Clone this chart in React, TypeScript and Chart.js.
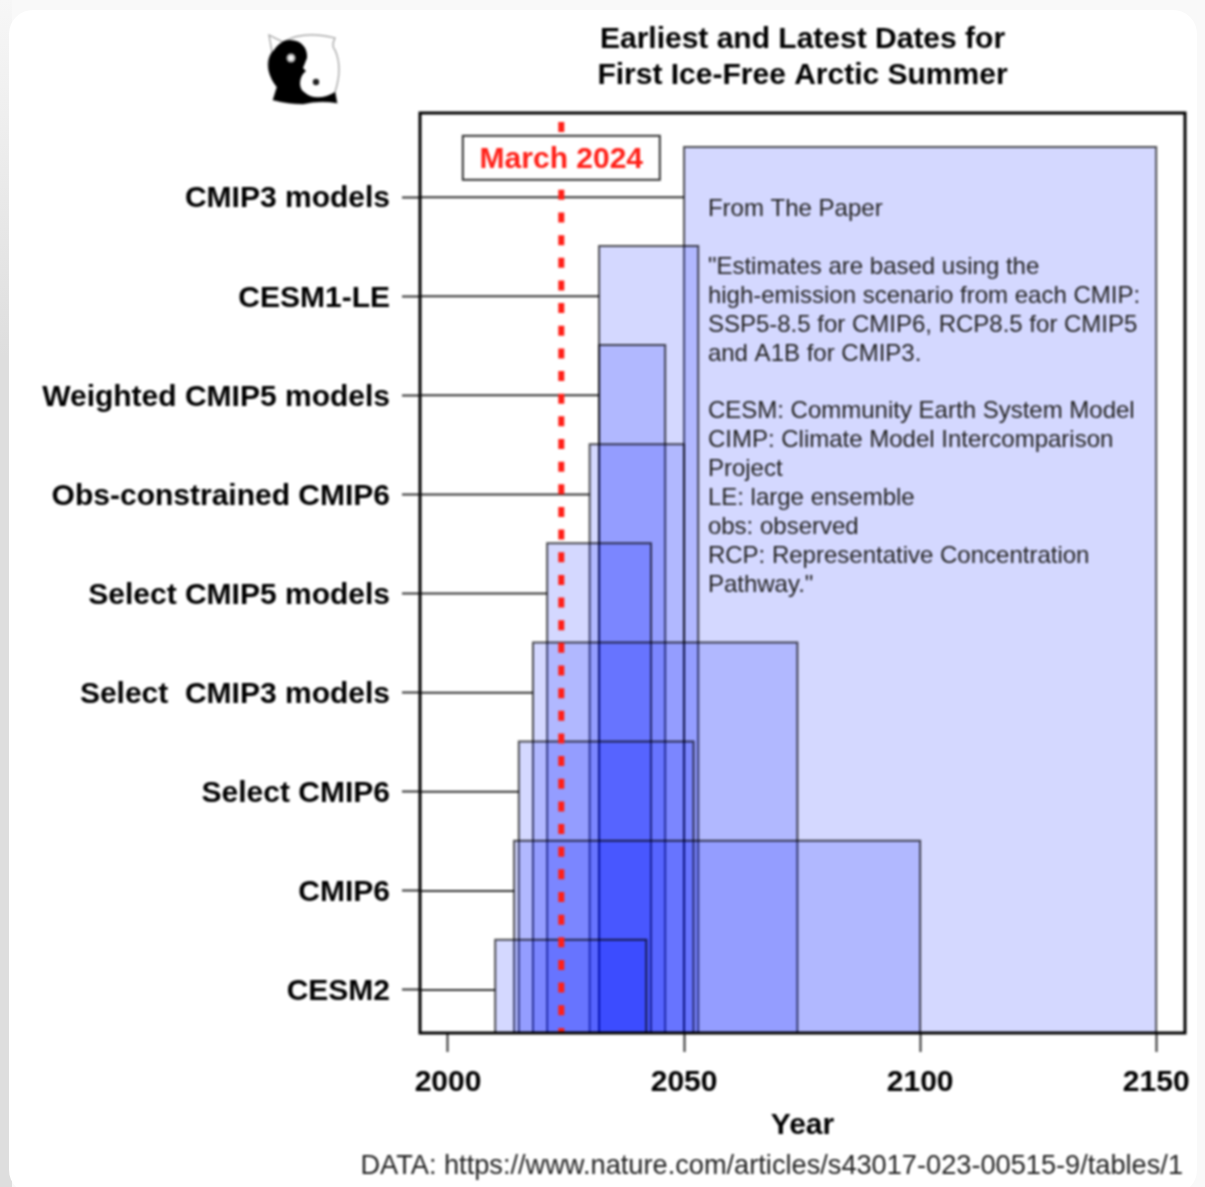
import React, { useEffect, useRef } from "react";
import { Chart, registerables } from "chart.js";

Chart.register(...registerables);

const categories = [
  "CESM2",
  "CMIP6",
  "Select CMIP6",
  "Select  CMIP3 models",
  "Select CMIP5 models",
  "Obs-constrained CMIP6",
  "Weighted CMIP5 models",
  "CESM1-LE",
  "CMIP3 models",
];
const earliestYear = [2010, 2014, 2015, 2018, 2021, 2030, 2032, 2032, 2050];
const latestYear = [2042, 2100, 2052, 2074, 2043, 2050, 2046, 2053, 2150];
const xTickValues = [2000, 2050, 2100, 2150];
const markerYear = 2024;
const markerLabel = "March 2024";
const noteLines = [
  "From The Paper",
  "",
  '"Estimates are based using the',
  "high-emission scenario from each CMIP:",
  "SSP5-8.5 for CMIP6, RCP8.5 for CMIP5",
  "and A1B for CMIP3.",
  "",
  "CESM: Community Earth System Model",
  "CIMP: Climate Model Intercomparison",
  "Project",
  "LE: large ensemble",
  "obs: observed",
  "RCP: Representative Concentration",
  'Pathway."',
];
const titleLines = ["Earliest and Latest Dates for", "First Ice-Free Arctic Summer"];
const sourceText = "DATA: https://www.nature.com/articles/s43017-023-00515-9/tables/1";

const X_MIN = 1994.07;
const X_MAX = 2156.1;
const Y_MIN = 0.566;
const Y_MAX = 9.849;
const BAND_TOP = 0.507;
const FONT = '"Liberation Sans", Arial, sans-serif';

const annotations = {
  id: "annotations",
  afterDraw(chart: any) {
    const { ctx, chartArea, scales } = chart;
    const x = scales.x;
    const y = scales.y;
    ctx.save();
    // plot frame
    ctx.strokeStyle = "#000";
    ctx.lineWidth = 3;
    ctx.strokeRect(chartArea.left, chartArea.top, chartArea.right - chartArea.left, chartArea.bottom - chartArea.top);
    // marker label
    const cx = x.getPixelForValue(markerYear);
    const cy = y.getPixelForValue(9.397);
    ctx.fillStyle = "#fff";
    ctx.strokeStyle = "#333";
    ctx.lineWidth = 2;
    ctx.fillRect(cx - 98.5, cy - 22, 197, 44);
    ctx.strokeRect(cx - 98.5, cy - 22, 197, 44);
    ctx.fillStyle = "#ff2018";
    ctx.font = `bold 30px ${FONT}`;
    ctx.textAlign = "center";
    ctx.textBaseline = "middle";
    ctx.fillText(markerLabel, cx, cy + 2);
    // note
    ctx.fillStyle = "#222";
    ctx.font = `24px ${FONT}`;
    ctx.textAlign = "left";
    const nx = x.getPixelForValue(2055.05);
    noteLines.forEach((line, i) => {
      if (line) ctx.fillText(line, nx, 209.5 + i * 28.9);
    });
    // source
    ctx.fillStyle = "#222";
    ctx.font = `27.2px ${FONT}`;
    ctx.textAlign = "right";
    ctx.fillText(sourceText, 1183, 1167);
    ctx.restore();
  },
};

export default function App() {
  const ref = useRef<HTMLCanvasElement | null>(null);
  useEffect(() => {
    const rects = categories.map((name, i) => ({
      label: name,
      data: [
        { x: earliestYear[i], y: Y_MIN },
        { x: earliestYear[i], y: i + 1 + BAND_TOP },
        { x: latestYear[i], y: i + 1 + BAND_TOP },
        { x: latestYear[i], y: Y_MIN },
      ],
      borderColor: "rgba(0,0,0,0.68)",
      borderWidth: 2,
      backgroundColor: "rgba(0,25,255,0.17)",
      fill: "origin",
      pointRadius: 0,
      tension: 0,
    }));
    const stems: any[] = [];
    categories.forEach((_, i) => {
      stems.push({ x: X_MIN, y: i + 1 }, { x: earliestYear[i], y: i + 1 }, { x: earliestYear[i], y: null });
    });
    const chart = new Chart(ref.current as HTMLCanvasElement, {
      type: "line",
      data: {
        datasets: [
          {
            label: "March 2024",
            data: [
              { x: markerYear, y: 9.759 },
              { x: markerYear, y: Y_MIN },
            ],
            borderColor: "#ff2018",
            borderWidth: 6,
            borderDash: [10, 12.65],
            pointRadius: 0,
            fill: false,
          },
          ...rects,
          {
            label: "stems",
            data: stems,
            borderColor: "#333",
            borderWidth: 2,
            pointRadius: 0,
            fill: false,
            spanGaps: false,
          },
        ] as any,
      },
      options: {
        responsive: false,
        animation: false,
        layout: { padding: { left: 0, right: 20, top: 0, bottom: 0 } },
        plugins: {
          legend: { display: false },
          tooltip: { enabled: false },
          title: {
            display: true,
            text: titleLines,
            fullSize: false,
            color: "#000",
            font: { family: FONT, size: 30, weight: "bold", lineHeight: 1.2 },
            padding: { top: 22, bottom: 19 },
          },
        },
        scales: {
          x: {
            type: "linear",
            min: X_MIN,
            max: X_MAX,
            afterBuildTicks: (s: any) => {
              s.ticks = xTickValues.map((value) => ({ value }));
            },
            afterFit: (s: any) => {
              s.height = 154;
            },
            grid: { drawOnChartArea: false, drawTicks: true, tickLength: 19, tickWidth: 2, tickColor: "#333" },
            border: { display: false },
            ticks: {
              autoSkip: false,
              maxRotation: 0,
              padding: 13,
              color: "#000",
              font: { family: FONT, size: 30, weight: "bold" },
              callback: (v: any) => String(v),
            },
            title: {
              display: true,
              text: "Year",
              color: "#000",
              font: { family: FONT, size: 30, weight: "bold", lineHeight: 1.2 },
              padding: { top: 0, bottom: 43 },
            },
          },
          y: {
            type: "linear",
            min: Y_MIN,
            max: Y_MAX,
            afterBuildTicks: (s: any) => {
              s.ticks = categories.map((_, i) => ({ value: i + 1 }));
            },
            afterFit: (s: any) => {
              s.width = 420;
            },
            grid: { drawOnChartArea: false, drawTicks: true, tickLength: 18, tickWidth: 2, tickColor: "#333" },
            border: { display: false },
            ticks: {
              autoSkip: false,
              maxRotation: 0,
              padding: 12,
              color: "#000",
              font: { family: FONT, size: 30, weight: "bold", lineHeight: "4px" },
              // the empty first line nudges the label down to the tick's optical centre
              callback: (v: any) => ["", categories[Math.round(v) - 1]],
            },
          },
        },
      } as any,
      plugins: [annotations],
    });
    return () => chart.destroy();
  }, []);

  return (
    <div style={{ position: "fixed", inset: 0, overflow: "hidden", background: "#f9f9f9" }}>
      <div
        style={{
          position: "absolute",
          left: 0,
          top: 0,
          width: 12,
          height: 1187,
          background: "linear-gradient(to bottom, #f7f7f7, #dedede 30%, #dedede)",
        }}
      />
      <div
        style={{
          position: "absolute",
          left: 9,
          top: 10,
          width: 1188,
          height: 1184,
          background: "#fff",
          borderRadius: 24,
        }}
      />
      <canvas
        ref={ref}
        width={1205}
        height={1187}
        style={{ position: "absolute", left: 0, top: 0, width: 1205, height: 1187, filter: "blur(0.8px)" }}
      />
      <svg width={1205} height={1187} style={{ position: "absolute", left: 0, top: 0, filter: "blur(0.8px)" }}>
        <path
          d="M269 35 L283 42 Q303 30 335 38 Q331 46 335 50 Q343 68 335 92 L337 103 Q320 100 303 104 Q288 104 273 100 L277 87 Q262 66 272 52 Z"
          fill="#fff"
          stroke="#999"
          strokeWidth={1.2}
        />
        <path
          d="M290 40 C302 40 308 49 307 58 L303 68 L306 71 C299 76 298 88 304 92 C311 99 324 99 335 92 L337 103 Q320 100 303 104 Q288 104 273 100 L277 87 C266 74 266 58 274 50 C279 43 284 40 290 40 Z"
          fill="#000"
        />
        <circle cx={291} cy={58} r={4.5} fill="#bbb" />
        <circle cx={291} cy={58} r={2.2} fill="#fff" />
        <circle cx={316} cy={82} r={3.2} fill="#222" />
      </svg>
    </div>
  );
}
